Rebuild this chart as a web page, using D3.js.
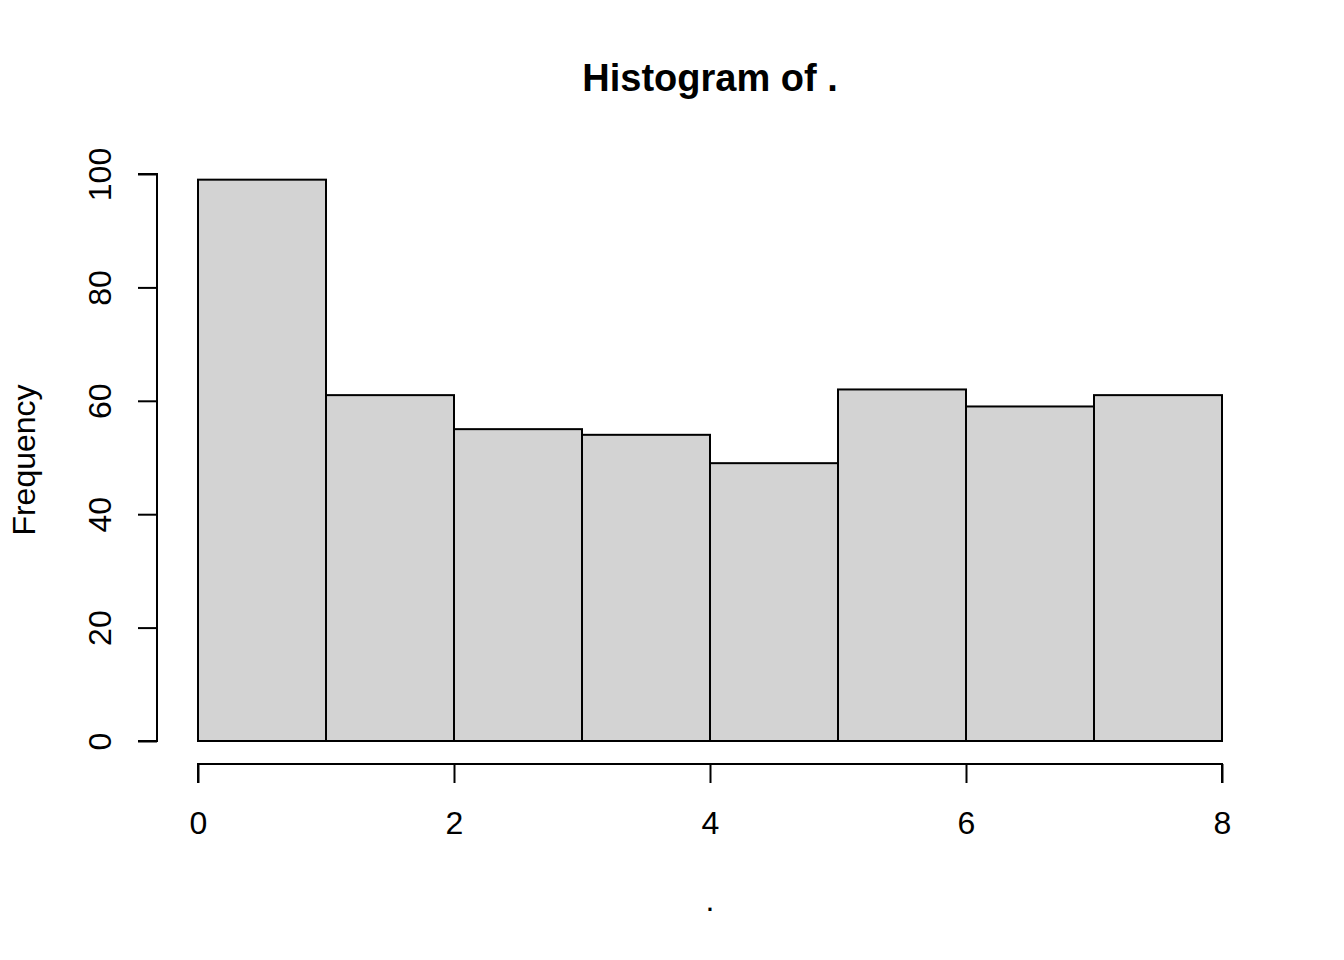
<!DOCTYPE html>
<html><head><meta charset="utf-8">
<script src="https://cdn.jsdelivr.net/npm/d3@7"></script>
<style>
html,body{margin:0;padding:0;background:#fff;}
svg text{font-family:"Liberation Sans",Arial,sans-serif;fill:#000;}
</style></head>
<body>
<svg id="chart" width="1344" height="960"></svg>
<script>
const binStarts = [0,1,2,3,4,5,6,7];
const binEnds   = [1,2,3,4,5,6,7,8];
const counts    = [99,61,55,54,49,62,59,61];
const xTicks    = [0,2,4,6,8];
const yTicks    = [0,20,40,60,80,100];

const svg = d3.select("#chart");
const x = d3.scaleLinear().domain([0,8]).range([198,1222]);
const y = d3.scaleLinear().domain([0,100]).range([741,174]);

// bars
svg.append("g").selectAll("rect").data(counts).join("rect")
  .attr("x",(d,i)=>x(binStarts[i]))
  .attr("width",(d,i)=>x(binEnds[i])-x(binStarts[i]))
  .attr("y",d=>y(d))
  .attr("height",d=>y(0)-y(d))
  .attr("fill","#d3d3d3")
  .attr("stroke","#000")
  .attr("stroke-width",2);

// x axis
const xa = svg.append("g").attr("transform","translate(0,764)")
  .call(d3.axisBottom(x).tickValues(xTicks).tickFormat(d3.format("d")).tickSize(19).tickPadding(28));
xa.select(".domain").attr("stroke-width",2).attr("d",`M${x(0)},19V0H${x(8)}V19`);
xa.selectAll(".tick line").attr("stroke-width",2);
xa.selectAll(".tick text").attr("font-size",32).style("font-family","'Liberation Sans',Arial,sans-serif");

// y axis
const ya = svg.append("g").attr("transform","translate(157,0)")
  .call(d3.axisLeft(y).tickValues(yTicks).tickFormat(d3.format("d")).tickSize(19));
ya.select(".domain").attr("stroke-width",2).attr("d",`M-19,${y(0)}H0V${y(100)}H-19`);
ya.selectAll(".tick line").attr("stroke-width",2);
ya.selectAll(".tick text")
  .attr("font-size",32)
  .attr("x",0).attr("dy",null)
  .attr("text-anchor","middle")
  .attr("transform","translate(-57,0) rotate(-90)")
  .attr("dominant-baseline","central")
  .style("font-family","'Liberation Sans',Arial,sans-serif");

// title
svg.append("text").attr("x",710).attr("y",91).attr("text-anchor","middle")
  .attr("font-size",38).attr("font-weight","bold").text("Histogram of .");
// x label
svg.append("text").attr("x",710).attr("y",911).attr("text-anchor","middle")
  .attr("font-size",32).text(".");
// y label
svg.append("text").attr("transform","translate(35,460) rotate(-90)").attr("text-anchor","middle")
  .attr("font-size",32).text("Frequency");
</script>
</body></html>
